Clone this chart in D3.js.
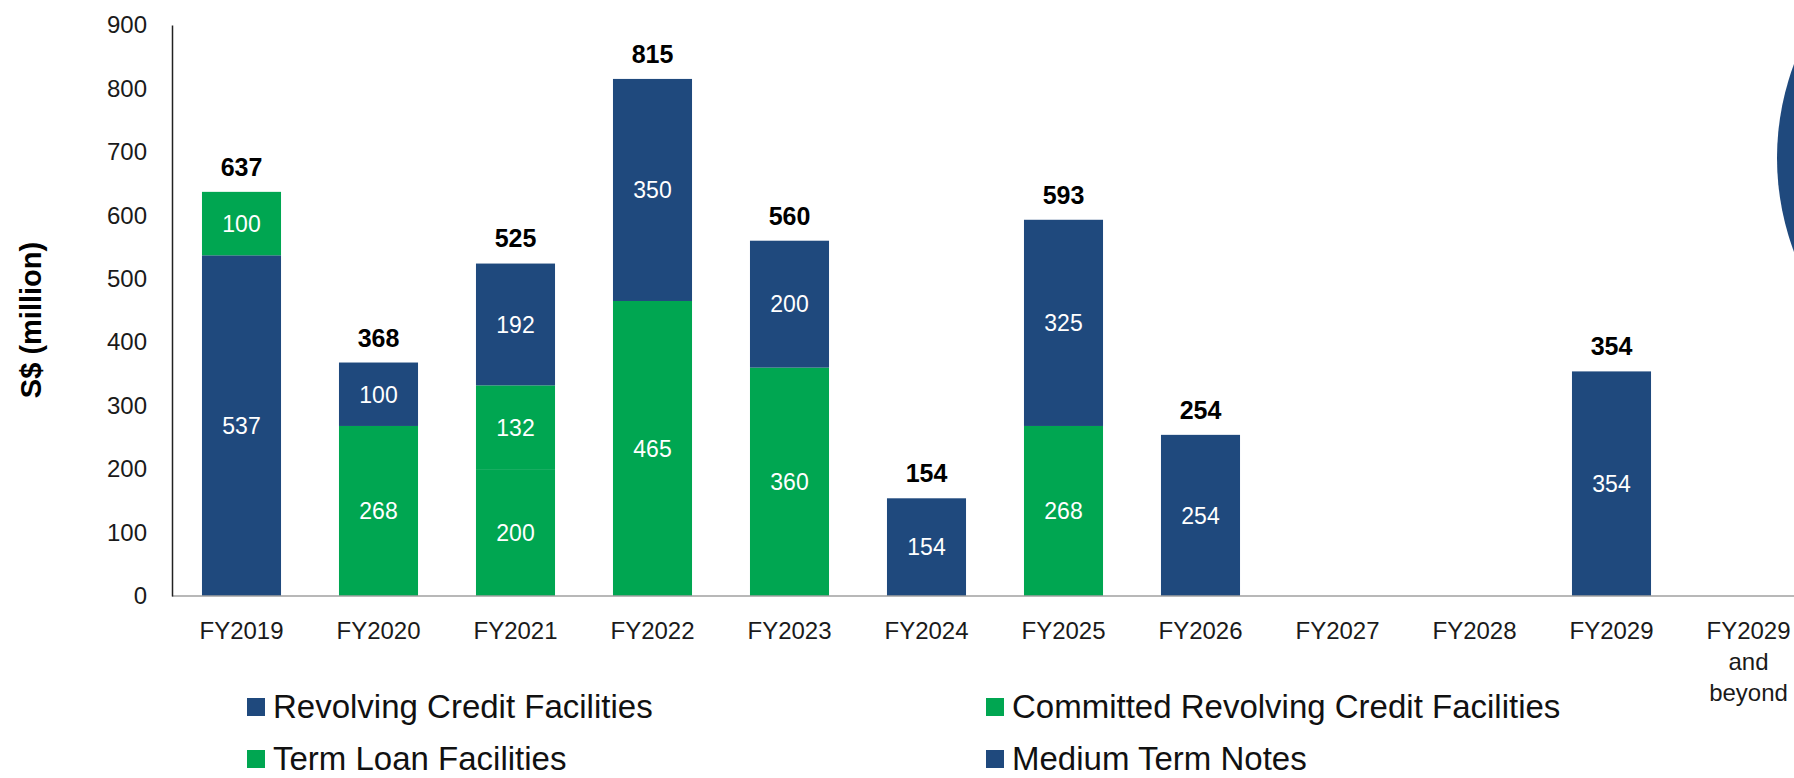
<!DOCTYPE html>
<html>
<head>
<meta charset="utf-8">
<script src="https://cdn.jsdelivr.net/npm/d3@7"></script>
<style>
  html, body { margin: 0; padding: 0; background: #fff; overflow: hidden; }
  svg { display: block; font-family: "Liberation Sans", Arial, sans-serif; }
</style>
</head>
<body>
<svg id="chart" width="1794" height="778"></svg>
<script>
// ---- data ----
const categories = ["FY2019","FY2020","FY2021","FY2022","FY2023","FY2024","FY2025","FY2026","FY2027","FY2028","FY2029","FY2029\nand\nbeyond"];
const seriesNames = ["Revolving Credit Facilities","Committed Revolving Credit Facilities","Term Loan Facilities","Medium Term Notes"];
const revolving      = [537, 0,   0,   0,   0,   0,   0,   0,   0, 0, 0,   0];
const committedRcf   = [100, 0,   200, 0,   0,   0,   0,   0,   0, 0, 0,   0];
const termLoan       = [0,   268, 132, 465, 360, 0,   268, 0,   0, 0, 0,   0];
const mediumTerm     = [0,   100, 192, 350, 200, 154, 325, 254, 0, 0, 354, 0];
const totals         = [637, 368, 525, 815, 560, 154, 593, 254, 0, 0, 354, 0];
const yTicks = [0,100,200,300,400,500,600,700,800,900];

const seriesValues = [revolving, committedRcf, termLoan, mediumTerm];
const seriesColors = ["#1F497D", "#00A651", "#00A651", "#1F497D"];

const svg = d3.select("#chart");

const x = d3.scaleBand().domain(categories).range([173, 1817]).paddingInner(0.423).paddingOuter(0.2115);
const y = d3.scaleLinear().domain([0, 900]).range([596, 25]);

// decorative circle at right edge
svg.append("circle").attr("cx", 2045).attr("cy", 158).attr("r", 268).attr("fill", "#1F497D");

// stacked data
const rows = categories.map((c, i) => {
  const o = { cat: c };
  seriesNames.forEach((s, k) => o[s] = seriesValues[k][i]);
  return o;
});
const stack = d3.stack().keys(seriesNames)(rows);

stack.forEach((layer, k) => {
  const g = svg.append("g");
  layer.forEach((d, i) => {
    const v = d[1] - d[0];
    if (v <= 0) return;
    g.append("rect")
      .attr("x", x(categories[i]))
      .attr("y", y(d[1]))
      .attr("width", x.bandwidth())
      .attr("height", y(d[0]) - y(d[1]))
      .attr("fill", seriesColors[k]);
    g.append("text")
      .attr("x", x(categories[i]) + x.bandwidth() / 2)
      .attr("y", (y(d[0]) + y(d[1])) / 2)
      .attr("dy", "0.36em")
      .attr("text-anchor", "middle")
      .attr("fill", "#fff")
      .attr("font-size", 23)
      .text(v);
  });
});

// totals
totals.forEach((total, i) => {
  if (total <= 0) return;
  svg.append("text")
    .attr("x", x(categories[i]) + x.bandwidth() / 2)
    .attr("y", y(total) - 16)
    .attr("text-anchor", "middle")
    .attr("font-weight", "bold")
    .attr("font-size", 25)
    .attr("fill", "#000")
    .text(total);
});

// x axis baseline
svg.append("line").attr("x1", 172).attr("x2", 1794).attr("y1", y(0)).attr("y2", y(0))
  .attr("stroke", "#a0a0a0").attr("stroke-width", 1.5);

// y axis
const yAxis = d3.axisLeft(y).tickValues(yTicks).tickSize(0).tickPadding(25);
const yg = svg.append("g").attr("transform", "translate(172,0)").call(yAxis);
yg.select(".domain").attr("stroke", "#222").attr("stroke-width", 1.5);
yg.selectAll("text").attr("font-size", 24).attr("fill", "#1a1a1a")
  .attr("font-family", "'Liberation Sans', Arial, sans-serif");

// x axis labels
const xAxis = d3.axisBottom(x).tickSize(0).tickFormat(() => "");
const xg = svg.append("g").attr("transform", `translate(0,${y(0)})`).call(xAxis);
xg.select(".domain").remove();
categories.forEach(c => {
  const lines = c.split("\n");
  const t = svg.append("text")
    .attr("x", x(c) + x.bandwidth() / 2)
    .attr("y", 639)
    .attr("text-anchor", "middle")
    .attr("font-size", 24)
    .attr("fill", "#1a1a1a");
  lines.forEach((ln, j) => {
    t.append("tspan").attr("x", x(c) + x.bandwidth() / 2).attr("dy", j === 0 ? 0 : 31).text(ln);
  });
});

// y title
svg.append("text")
  .attr("transform", "translate(41,320) rotate(-90)")
  .attr("text-anchor", "middle")
  .attr("font-weight", "bold")
  .attr("font-size", 29)
  .attr("fill", "#000")
  .text("S$ (million)");

// legend
const legendPos = [
  { x: 247, y: 707 }, { x: 986, y: 707 },
  { x: 247, y: 759 }, { x: 986, y: 759 }
];
seriesNames.forEach((s, k) => {
  const p = legendPos[k];
  svg.append("rect").attr("x", p.x).attr("y", p.y - 9).attr("width", 18).attr("height", 18).attr("fill", seriesColors[k]);
  svg.append("text").attr("x", p.x + 26).attr("y", p.y + 11)
    .attr("font-size", 33).attr("fill", "#111").text(s);
});
</script>
</body>
</html>
